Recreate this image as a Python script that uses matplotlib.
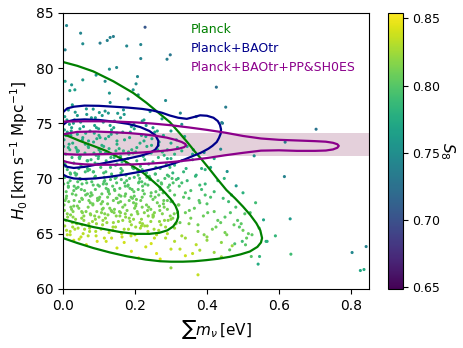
import matplotlib
matplotlib.use('Agg')
import matplotlib.pyplot as plt
import numpy as np

# MCMC samples (sum of neutrino masses [eV], H0, S8)
mnu = [
    0.010, 0.049, 0.055, 0.103, 0.123, 0.131, 0.140, 0.177, 0.216, 0.228,
    0.216, 0.006, 0.129, 0.149, 0.092, 0.117, 0.055, 0.006, 0.024, 0.019,
    0.033, 0.207, 0.203, 0.195, 0.129, 0.181, 0.209, 0.131, 0.026, 0.084,
    0.101, 0.126, 0.168, 0.242, 0.298, 0.289, 0.426, 0.285, 0.452, 0.326,
    0.370, 0.443, 0.703, 0.617, 0.441, 0.438, 0.392, 0.531, 0.456, 0.615,
    0.631, 0.564, 0.633, 0.803, 0.842, 0.826, 0.836, 0.481, 0.557, 0.567,
    0.542, 0.546, 0.523, 0.375, 0.498, 0.507, 0.477, 0.463, 0.590, 0.300,
    0.005, 0.018, 0.032, 0.047, 0.066, 0.088, 0.112, 0.135, 0.160, 0.190,
    0.220, 0.250, 0.275, 0.300, 0.330, 0.012, 0.040, 0.075, 0.100, 0.150,
    0.003, 0.015, 0.027, 0.040, 0.055, 0.070, 0.085, 0.100, 0.118, 0.135,
    0.150, 0.168, 0.185, 0.205, 0.225, 0.245, 0.265, 0.290, 0.315, 0.345,
    0.008, 0.022, 0.048, 0.062, 0.092, 0.108, 0.128, 0.160, 0.195, 0.230,
    0.002, 0.012, 0.025, 0.036, 0.050, 0.062, 0.078, 0.090, 0.105, 0.120,
    0.135, 0.150, 0.165, 0.180, 0.198, 0.215, 0.232, 0.250, 0.270, 0.290,
    0.310, 0.335, 0.360, 0.385, 0.005, 0.030, 0.068, 0.098, 0.142, 0.175,
    0.205, 0.240, 0.265, 0.020, 0.045, 0.085, 0.115, 0.160, 0.220, 0.300,
    0.002, 0.010, 0.020, 0.030, 0.042, 0.054, 0.066, 0.078, 0.090, 0.102,
    0.114, 0.126, 0.138, 0.150, 0.162, 0.174, 0.186, 0.198, 0.210, 0.222,
    0.236, 0.250, 0.264, 0.278, 0.292, 0.310, 0.330, 0.355, 0.380, 0.410,
    0.006, 0.015, 0.036, 0.048, 0.072, 0.084, 0.108, 0.132, 0.156, 0.180,
    0.204, 0.228, 0.244, 0.270, 0.060, 0.096, 0.120, 0.144, 0.192, 0.216,
    0.003, 0.012, 0.024, 0.035, 0.046, 0.058, 0.070, 0.082, 0.094, 0.106,
    0.118, 0.130, 0.142, 0.154, 0.166, 0.178, 0.190, 0.202, 0.214, 0.226,
    0.238, 0.250, 0.262, 0.276, 0.290, 0.305, 0.320, 0.340, 0.365, 0.390,
    0.420, 0.450, 0.480, 0.505, 0.008, 0.030, 0.052, 0.076, 0.100, 0.124,
    0.148, 0.172, 0.196, 0.220, 0.244, 0.268, 0.140, 0.184, 0.160, 0.110,
    0.005, 0.020, 0.038, 0.056, 0.074, 0.092, 0.110, 0.128, 0.146, 0.164,
    0.182, 0.200, 0.218, 0.236, 0.254, 0.272, 0.290, 0.310, 0.330, 0.350,
    0.375, 0.400, 0.425, 0.450, 0.475, 0.500, 0.525, 0.030, 0.065, 0.120,
    0.150, 0.190, 0.230, 0.260, 0.300, 0.340, 0.380, 0.420, 0.210, 0.270,
    0.290, 0.305, 0.320, 0.345, 0.370, 0.395, 0.410, 0.360, 0.330, 0.420,
    0.300, 0.325, 0.350, 0.375, 0.400, 0.430, 0.460, 0.490, 0.520, 0.545,
    0.310, 0.340, 0.370, 0.400, 0.440, 0.470, 0.510, 0.360, 0.440, 0.395,
    0.004, 0.017, 0.029, 0.043, 0.057, 0.071, 0.086, 0.099, 0.113, 0.127,
    0.141, 0.156, 0.171, 0.187, 0.202, 0.218, 0.233, 0.247, 0.262, 0.281,
    0.007, 0.019, 0.033, 0.046, 0.061, 0.074, 0.089, 0.104, 0.119, 0.133,
    0.147, 0.161, 0.176, 0.191, 0.208, 0.223, 0.238, 0.256, 0.276, 0.297,
    0.003, 0.014, 0.026, 0.038, 0.051, 0.064, 0.076, 0.088, 0.101, 0.113,
    0.125, 0.137, 0.149, 0.161, 0.173, 0.185, 0.197, 0.209, 0.221, 0.233,
    0.245, 0.257, 0.269, 0.283, 0.297, 0.315, 0.340, 0.368, 0.395, 0.430,
    0.004, 0.016, 0.028, 0.040, 0.052, 0.064, 0.076, 0.088, 0.100, 0.112,
    0.124, 0.136, 0.148, 0.160, 0.172, 0.184, 0.196, 0.208, 0.220, 0.232,
    0.244, 0.256, 0.268, 0.280, 0.292, 0.304, 0.318, 0.335, 0.355, 0.380,
    0.010, 0.026, 0.042, 0.058, 0.074, 0.090, 0.106, 0.122, 0.138, 0.154,
    0.170, 0.186, 0.202, 0.218, 0.234, 0.250, 0.266, 0.282, 0.298, 0.314,
    0.020, 0.045, 0.070, 0.095, 0.135, 0.170, 0.205, 0.245, 0.285, 0.325,
    0.002, 0.009, 0.014, 0.021, 0.031, 0.044, 0.053, 0.067, 0.081, 0.094,
    0.107, 0.121, 0.134, 0.146, 0.158, 0.171, 0.183, 0.199, 0.213, 0.227,
    0.241, 0.254, 0.267, 0.279, 0.294, 0.309, 0.323, 0.351, 0.378, 0.402,
    0.011, 0.023, 0.034, 0.049, 0.063, 0.079, 0.093, 0.109, 0.131, 0.152,
    0.438, 0.465, 0.495, 0.515, 0.535, 0.455, 0.485, 0.415, 0.445, 0.392,
    0.420, 0.448, 0.468, 0.500, 0.385, 0.342, 0.362, 0.318, 0.338, 0.300,
    0.028, 0.041, 0.054, 0.069, 0.083, 0.097, 0.116, 0.143, 0.166, 0.193,
    0.009, 0.022, 0.037, 0.052, 0.068, 0.083, 0.097, 0.111, 0.126, 0.143,
    0.158, 0.174, 0.189, 0.203, 0.219, 0.235, 0.251, 0.266, 0.281, 0.296,
    0.006, 0.021, 0.036, 0.053, 0.069, 0.084, 0.099, 0.116, 0.132, 0.148,
    0.164, 0.181, 0.196, 0.212, 0.227, 0.243, 0.258, 0.273, 0.287, 0.303,
    0.013, 0.027, 0.044, 0.060, 0.077, 0.093, 0.109, 0.125, 0.140, 0.157,
    0.173, 0.190, 0.206, 0.221, 0.237, 0.253, 0.269, 0.285, 0.300, 0.260,
    0.008, 0.024, 0.039, 0.054, 0.071, 0.087, 0.103, 0.118, 0.134, 0.150,
    0.166, 0.182, 0.198, 0.214, 0.231, 0.246, 0.263, 0.279, 0.310, 0.330,
    0.015, 0.031, 0.047, 0.063, 0.080, 0.096, 0.112, 0.129, 0.145, 0.161,
    0.177, 0.193, 0.209, 0.226, 0.242, 0.258, 0.274, 0.290, 0.306, 0.322,
    0.012, 0.033, 0.050, 0.072, 0.091, 0.115, 0.139, 0.163, 0.189, 0.215,
    0.015, 0.040, 0.065, 0.090, 0.117, 0.143, 0.170, 0.197, 0.225, 0.255,
]
h0 = [
    83.85, 83.16, 82.20, 82.26, 82.50, 82.77, 82.86, 82.00, 82.13, 83.70,
    80.86, 81.65, 79.90, 80.05, 79.36, 78.80, 78.93, 78.80, 78.48, 77.96,
    78.03, 79.23, 78.57, 78.03, 77.73, 77.20, 77.57, 76.88, 76.67, 76.28,
    75.97, 75.92, 76.21, 76.06, 81.20, 80.80, 78.27, 77.06, 76.46, 75.92,
    75.60, 75.00, 74.46, 73.29, 75.06, 72.65, 72.35, 72.05, 70.63, 70.17,
    66.34, 64.30, 63.14, 63.29, 63.83, 61.66, 61.75, 69.33, 66.25, 64.30,
    62.24, 62.93, 62.93, 61.27, 64.30, 63.99, 64.08, 63.53, 64.80, 61.90,
    75.60, 74.90, 75.30, 74.50, 75.80, 74.80, 75.10, 74.40, 75.50, 74.70,
    75.20, 74.60, 75.40, 74.30, 74.90, 74.20, 74.00, 74.30, 73.90, 74.10,
    73.50, 72.80, 73.20, 72.40, 73.70, 72.90, 73.30, 72.60, 73.60, 72.20,
    73.10, 72.50, 73.70, 72.80, 73.40, 72.30, 73.00, 72.60, 73.50, 72.90,
    72.20, 73.90, 72.00, 73.10, 72.10, 73.00, 72.70, 72.00, 72.30, 73.80,
    71.50, 70.80, 71.90, 70.30, 71.20, 70.60, 71.70, 70.20, 71.00, 71.60,
    70.40, 71.30, 70.70, 71.80, 70.10, 71.10, 70.50, 71.50, 70.90, 70.30,
    71.20, 70.60, 71.70, 70.90, 70.10, 71.40, 70.90, 71.80, 71.90, 70.30,
    71.60, 70.20, 71.90, 70.50, 71.90, 70.60, 70.10, 71.90, 70.80, 71.80,
    69.50, 68.40, 69.80, 68.90, 69.20, 68.10, 69.60, 68.70, 69.00, 68.30,
    69.70, 68.80, 69.30, 68.20, 69.90, 68.60, 69.10, 68.40, 69.60, 68.90,
    69.40, 68.10, 69.80, 68.70, 69.20, 68.50, 69.60, 68.90, 69.40, 68.30,
    68.00, 69.20, 68.50, 69.90, 68.00, 69.40, 68.60, 69.90, 68.50, 69.30,
    68.10, 69.50, 68.40, 69.00, 68.90, 68.00, 69.10, 68.90, 69.00, 68.00,
    67.60, 66.80, 67.20, 66.30, 67.90, 66.60, 67.40, 66.10, 67.00, 67.70,
    66.40, 67.30, 66.90, 67.80, 66.20, 67.10, 66.70, 67.50, 66.00, 66.90,
    67.40, 66.50, 67.80, 66.80, 67.20, 66.40, 67.60, 66.90, 67.30, 66.60,
    67.00, 66.50, 67.40, 66.80, 66.20, 67.50, 67.00, 66.80, 66.50, 67.70,
    66.60, 67.60, 66.30, 67.40, 66.10, 66.10, 68.00, 68.00, 67.90, 67.90,
    65.70, 65.20, 65.90, 65.00, 65.50, 64.80, 65.80, 65.10, 65.60, 64.70,
    65.40, 64.90, 65.70, 65.20, 64.60, 65.80, 65.00, 65.50, 64.80, 65.90,
    65.20, 64.70, 65.60, 65.10, 65.80, 65.30, 64.90, 64.40, 64.00, 64.30,
    63.70, 63.40, 63.80, 63.20, 63.60, 63.00, 63.50, 63.30, 62.80, 62.70,
    71.80, 70.50, 70.00, 69.80, 70.30, 69.50, 71.00, 72.20, 71.60, 68.80,
    67.90, 66.00, 68.20, 65.80, 67.70, 66.20, 67.90, 65.60, 66.90, 65.50,
    64.30, 64.60, 64.00, 64.40, 64.20, 63.90, 64.60, 63.20, 62.90, 68.50,
    74.40, 73.10, 75.00, 72.50, 74.70, 73.40, 72.30, 74.50, 72.90, 73.80,
    74.60, 72.70, 73.50, 74.20, 72.40, 73.90, 72.90, 73.60, 74.30, 72.10,
    71.10, 72.60, 70.50, 71.80, 72.30, 70.80, 71.40, 72.40, 70.60, 71.90,
    72.50, 70.90, 71.40, 72.60, 70.70, 72.00, 71.30, 70.40, 72.40, 71.00,
    70.20, 69.60, 68.60, 70.40, 69.00, 69.90, 68.40, 70.10, 69.30, 70.50,
    69.00, 70.20, 69.60, 70.50, 69.30, 70.00, 68.80, 70.30, 69.30, 70.10,
    68.70, 70.40, 69.20, 70.00, 68.90, 69.90, 68.70, 70.20, 70.80, 69.80,
    67.10, 67.90, 66.50, 67.50, 68.20, 67.00, 67.80, 66.60, 68.10, 67.30,
    68.30, 67.00, 68.20, 66.90, 68.40, 66.40, 67.80, 66.80, 68.30, 67.60,
    67.20, 68.30, 67.50, 68.00, 66.20, 67.90, 66.90, 68.30, 66.40, 67.80,
    65.30, 66.00, 65.50, 66.20, 65.20, 66.30, 65.40, 66.00, 65.30, 66.10,
    65.40, 66.10, 65.60, 66.30, 65.70, 66.70, 65.30, 66.20, 66.60, 65.90,
    64.90, 64.50, 64.80, 64.30, 64.60, 64.20, 64.40, 64.10, 64.60, 63.60,
    72.90, 68.80, 74.00, 66.70, 69.30, 70.90, 65.80, 71.60, 68.50, 73.60,
    66.90, 69.50, 67.10, 71.20, 66.60, 69.60, 72.20, 67.30, 70.00, 65.70,
    69.90, 66.90, 73.30, 67.70, 70.20, 66.80, 69.30, 67.10, 68.00, 66.90,
    75.30, 74.30, 76.00, 75.10, 74.10, 75.50, 74.60, 75.70, 74.80, 75.90,
    66.00, 66.90, 65.90, 65.00, 67.80, 64.90, 66.20, 65.40, 68.20, 64.90,
    71.80, 70.00, 68.50, 68.70, 69.00, 70.90, 72.60, 72.80, 73.80, 73.20,
    67.00, 69.70, 66.90, 70.70, 67.60, 71.30, 66.80, 69.00, 67.40, 71.00,
    68.20, 67.40, 69.10, 66.40, 68.60, 67.70, 69.40, 66.20, 68.90, 67.20,
    69.10, 66.50, 68.30, 67.70, 69.70, 67.10, 66.60, 68.50, 67.40, 69.40,
    71.30, 70.40, 72.80, 69.50, 71.60, 70.60, 72.00, 69.80, 71.00, 70.10,
    71.50, 69.40, 70.90, 69.70, 71.70, 69.90, 71.00, 69.60, 71.30, 70.00,
    66.50, 65.60, 67.30, 65.40, 66.70, 65.90, 67.20, 66.70, 66.00, 67.00,
    66.80, 65.80, 67.00, 65.90, 66.60, 65.40, 67.10, 65.60, 66.30, 64.90,
    73.90, 74.60, 72.60, 73.50, 72.80, 74.10, 73.70, 72.30, 74.00, 73.40,
    74.20, 72.40, 74.50, 73.20, 74.80, 73.00, 72.60, 73.90, 72.20, 72.50,
    69.30, 68.00, 70.00, 68.50, 69.70, 68.20, 69.50, 68.60, 70.00, 68.40,
    69.80, 68.20, 69.00, 68.60, 70.00, 68.80, 69.50, 68.00, 69.60, 67.60,
    64.90, 65.40, 64.70, 65.90, 65.20, 64.60, 65.60, 65.00, 64.80, 65.50,
    76.20, 75.70, 76.30, 75.50, 76.10, 75.20, 75.80, 74.90, 75.30, 74.20,
]
s8 = [
    0.745, 0.742, 0.748, 0.735, 0.740, 0.738, 0.736, 0.744, 0.742, 0.705,
    0.740, 0.738, 0.750, 0.745, 0.755, 0.748, 0.760, 0.765, 0.755, 0.768,
    0.762, 0.745, 0.748, 0.752, 0.756, 0.750, 0.748, 0.755, 0.765, 0.760,
    0.762, 0.758, 0.755, 0.752, 0.730, 0.735, 0.725, 0.748, 0.735, 0.745,
    0.742, 0.738, 0.728, 0.735, 0.740, 0.745, 0.750, 0.748, 0.755, 0.740,
    0.760, 0.780, 0.790, 0.745, 0.740, 0.770, 0.775, 0.760, 0.770, 0.780,
    0.775, 0.785, 0.800, 0.835, 0.790, 0.800, 0.795, 0.805, 0.785, 0.820,
    0.765, 0.768, 0.762, 0.770, 0.760, 0.768, 0.764, 0.770, 0.760, 0.766,
    0.762, 0.765, 0.758, 0.762, 0.755, 0.772, 0.770, 0.772, 0.774, 0.772,
    0.775, 0.778, 0.776, 0.780, 0.772, 0.778, 0.775, 0.780, 0.773, 0.782,
    0.776, 0.780, 0.772, 0.778, 0.774, 0.780, 0.775, 0.778, 0.770, 0.772,
    0.782, 0.772, 0.784, 0.776, 0.784, 0.777, 0.779, 0.785, 0.781, 0.770,
    0.786, 0.790, 0.784, 0.792, 0.788, 0.790, 0.785, 0.793, 0.789, 0.786,
    0.791, 0.787, 0.790, 0.784, 0.793, 0.788, 0.791, 0.785, 0.789, 0.790,
    0.782, 0.785, 0.778, 0.780, 0.794, 0.786, 0.789, 0.784, 0.784, 0.792,
    0.786, 0.793, 0.782, 0.791, 0.785, 0.790, 0.794, 0.784, 0.790, 0.780,
    0.798, 0.805, 0.796, 0.802, 0.800, 0.807, 0.797, 0.803, 0.801, 0.806,
    0.797, 0.803, 0.800, 0.806, 0.796, 0.804, 0.801, 0.805, 0.798, 0.802,
    0.799, 0.806, 0.796, 0.803, 0.800, 0.801, 0.792, 0.795, 0.790, 0.795,
    0.808, 0.799, 0.805, 0.796, 0.808, 0.799, 0.804, 0.796, 0.805, 0.800,
    0.807, 0.798, 0.805, 0.801, 0.802, 0.808, 0.801, 0.803, 0.801, 0.808,
    0.810, 0.816, 0.813, 0.820, 0.808, 0.818, 0.812, 0.822, 0.815, 0.810,
    0.819, 0.812, 0.815, 0.809, 0.821, 0.813, 0.816, 0.811, 0.823, 0.815,
    0.812, 0.818, 0.809, 0.815, 0.812, 0.815, 0.806, 0.808, 0.805, 0.808,
    0.805, 0.800, 0.795, 0.798, 0.821, 0.811, 0.814, 0.816, 0.818, 0.810,
    0.817, 0.810, 0.820, 0.811, 0.821, 0.820, 0.808, 0.807, 0.808, 0.809,
    0.825, 0.830, 0.823, 0.832, 0.827, 0.834, 0.824, 0.831, 0.826, 0.835,
    0.828, 0.832, 0.825, 0.829, 0.836, 0.824, 0.830, 0.822, 0.826, 0.815,
    0.815, 0.818, 0.808, 0.812, 0.805, 0.808, 0.802, 0.838, 0.840, 0.837,
    0.840, 0.842, 0.838, 0.843, 0.835, 0.838, 0.828, 0.822, 0.845, 0.842,
    0.775, 0.782, 0.785, 0.788, 0.780, 0.786, 0.770, 0.772, 0.776, 0.790,
    0.798, 0.808, 0.796, 0.810, 0.798, 0.805, 0.790, 0.800, 0.795, 0.800,
    0.830, 0.825, 0.832, 0.820, 0.818, 0.822, 0.805, 0.835, 0.825, 0.795,
    0.768, 0.776, 0.764, 0.780, 0.766, 0.775, 0.781, 0.768, 0.778, 0.772,
    0.768, 0.779, 0.774, 0.770, 0.781, 0.771, 0.777, 0.773, 0.768, 0.782,
    0.788, 0.781, 0.791, 0.785, 0.782, 0.790, 0.787, 0.781, 0.790, 0.784,
    0.781, 0.789, 0.787, 0.780, 0.790, 0.783, 0.787, 0.792, 0.780, 0.786,
    0.794, 0.797, 0.804, 0.792, 0.801, 0.795, 0.805, 0.794, 0.799, 0.792,
    0.801, 0.794, 0.797, 0.792, 0.800, 0.795, 0.803, 0.793, 0.800, 0.795,
    0.803, 0.792, 0.799, 0.794, 0.801, 0.793, 0.798, 0.785, 0.780, 0.785,
    0.813, 0.809, 0.818, 0.811, 0.807, 0.814, 0.809, 0.817, 0.807, 0.812,
    0.807, 0.813, 0.807, 0.815, 0.806, 0.818, 0.809, 0.815, 0.806, 0.810,
    0.812, 0.806, 0.810, 0.807, 0.818, 0.806, 0.812, 0.800, 0.810, 0.800,
    0.828, 0.822, 0.826, 0.820, 0.829, 0.820, 0.827, 0.822, 0.829, 0.821,
    0.827, 0.821, 0.825, 0.820, 0.825, 0.818, 0.828, 0.820, 0.815, 0.818,
    0.832, 0.835, 0.831, 0.838, 0.834, 0.839, 0.836, 0.840, 0.830, 0.832,
    0.776, 0.802, 0.770, 0.816, 0.799, 0.789, 0.824, 0.786, 0.805, 0.774,
    0.815, 0.798, 0.813, 0.788, 0.817, 0.797, 0.782, 0.812, 0.795, 0.825,
    0.796, 0.815, 0.774, 0.809, 0.794, 0.813, 0.797, 0.806, 0.800, 0.805,
    0.764, 0.769, 0.760, 0.765, 0.771, 0.763, 0.768, 0.761, 0.767, 0.759,
    0.805, 0.798, 0.802, 0.805, 0.790, 0.812, 0.800, 0.810, 0.792, 0.815,
    0.775, 0.782, 0.785, 0.780, 0.790, 0.782, 0.770, 0.774, 0.768, 0.772,
    0.814, 0.797, 0.815, 0.790, 0.810, 0.788, 0.815, 0.801, 0.811, 0.788,
    0.806, 0.811, 0.801, 0.819, 0.804, 0.809, 0.799, 0.821, 0.801, 0.812,
    0.800, 0.818, 0.806, 0.810, 0.797, 0.813, 0.817, 0.804, 0.811, 0.797,
    0.787, 0.792, 0.778, 0.798, 0.785, 0.791, 0.783, 0.796, 0.789, 0.793,
    0.786, 0.798, 0.789, 0.797, 0.785, 0.796, 0.789, 0.798, 0.787, 0.795,
    0.818, 0.826, 0.812, 0.827, 0.817, 0.823, 0.812, 0.817, 0.822, 0.813,
    0.816, 0.823, 0.814, 0.822, 0.817, 0.826, 0.813, 0.825, 0.819, 0.830,
    0.772, 0.768, 0.780, 0.775, 0.779, 0.771, 0.774, 0.782, 0.772, 0.776,
    0.771, 0.781, 0.769, 0.777, 0.767, 0.778, 0.780, 0.772, 0.781, 0.778,
    0.799, 0.807, 0.795, 0.804, 0.797, 0.806, 0.798, 0.804, 0.795, 0.805,
    0.796, 0.806, 0.801, 0.804, 0.795, 0.803, 0.798, 0.807, 0.797, 0.809,
    0.833, 0.829, 0.835, 0.824, 0.830, 0.836, 0.826, 0.832, 0.834, 0.828,
    0.758, 0.762, 0.757, 0.763, 0.758, 0.764, 0.760, 0.766, 0.763, 0.768,
]
assert len(mnu) == len(h0) == len(s8)

# SH0ES prior band
h0_shoes, h0_shoes_err = 73.04, 1.04

# credible-region contours (1 and 2 sigma)
planck_2s_x = [0.0, 0.04, 0.084, 0.14, 0.195, 0.232, 0.269, 0.297, 0.324, 0.345,
               0.366, 0.387, 0.407, 0.43, 0.454, 0.478, 0.50, 0.52, 0.537, 0.548,
               0.553, 0.550, 0.540, 0.519, 0.493, 0.463, 0.43, 0.398, 0.365, 0.333,
               0.30, 0.27, 0.23, 0.177, 0.13, 0.084, 0.04, 0.0]
planck_2s_y = [80.55, 80.2, 79.7, 78.8, 77.75, 76.85, 75.85, 75.1, 74.1, 73.3,
               72.45, 71.65, 70.85, 69.9, 68.95, 68.2, 67.45, 66.7, 65.95, 65.3,
               64.6, 64.2, 63.8, 63.38, 63.12, 62.9, 62.72, 62.6, 62.5, 62.46,
               62.46, 62.5, 62.65, 62.95, 63.3, 63.7, 64.15, 64.6]
planck_1s_x = [0.0, 0.047, 0.084, 0.12, 0.158, 0.19, 0.223, 0.25, 0.269, 0.285,
               0.3, 0.312, 0.319, 0.320, 0.316, 0.306, 0.29, 0.268, 0.24, 0.2,
               0.158, 0.12, 0.084, 0.04, 0.0]
planck_1s_y = [74.04, 73.4, 72.95, 72.5, 71.85, 71.2, 70.5, 69.75, 69.2, 68.65,
               68.1, 67.55, 67.0, 66.5, 66.1, 65.65, 65.3, 65.08, 64.98, 64.98,
               65.15, 65.38, 65.6, 65.95, 66.3]

bao_2s_x = [0.0, 0.012, 0.03, 0.06, 0.1, 0.14, 0.18, 0.22, 0.25, 0.275,
            0.297, 0.32, 0.344, 0.362, 0.381, 0.40, 0.418, 0.43, 0.436, 0.439,
            0.438, 0.433, 0.427, 0.415, 0.404, 0.39, 0.381, 0.362, 0.34, 0.316,
            0.288, 0.25, 0.214, 0.17, 0.13, 0.09, 0.056, 0.03, 0.012, 0.0]
bao_2s_y = [76.0, 76.35, 76.5, 76.6, 76.58, 76.5, 76.42, 76.3, 76.15, 75.95,
            75.7, 75.5, 75.4, 75.55, 75.72, 75.68, 75.5, 75.2, 74.86, 74.45,
            74.05, 73.65, 73.3, 72.95, 72.7, 72.45, 72.3, 72.05, 71.75, 71.45,
            71.15, 70.85, 70.6, 70.35, 70.15, 70.0, 69.95, 70.0, 70.15, 70.35]
bao_1s_x = [0.0, 0.012, 0.03, 0.06, 0.1, 0.14, 0.18, 0.215, 0.24, 0.257,
            0.265, 0.264, 0.256, 0.24, 0.215, 0.18, 0.14, 0.1, 0.06, 0.03,
            0.012, 0.0]
bao_1s_y = [74.85, 75.15, 75.3, 75.35, 75.3, 75.15, 74.95, 74.65, 74.3, 73.9,
            73.4, 72.95, 72.6, 72.3, 72.05, 71.8, 71.55, 71.3, 71.05, 70.95,
            71.05, 71.3]

sh0es_2s_x = [0.0, 0.05, 0.1, 0.15, 0.2, 0.25, 0.3, 0.35, 0.4, 0.45,
              0.5, 0.55, 0.6, 0.65, 0.7, 0.73, 0.75, 0.762, 0.766, 0.762,
              0.75, 0.73, 0.7, 0.65, 0.6, 0.55, 0.5, 0.45, 0.4, 0.35,
              0.3, 0.25, 0.2, 0.15, 0.1, 0.06, 0.03, 0.012, 0.0]
sh0es_2s_y = [75.15, 75.18, 75.18, 75.15, 75.08, 74.97, 74.82, 74.62, 74.4, 74.15,
              73.85, 73.62, 73.5, 73.44, 73.38, 73.33, 73.23, 73.1, 72.95, 72.78,
              72.63, 72.53, 72.5, 72.5, 72.55, 72.52, 72.32, 72.1, 71.85, 71.65,
              71.48, 71.36, 71.28, 71.24, 71.24, 71.28, 71.36, 71.48, 71.6]
sh0es_1s_x = [0.0, 0.04, 0.09, 0.13, 0.18, 0.223, 0.26, 0.288, 0.312, 0.33,
              0.34, 0.342, 0.336, 0.322, 0.3, 0.27, 0.223, 0.18, 0.13, 0.08,
              0.04, 0.012, 0.0]
sh0es_1s_y = [74.0, 74.22, 74.25, 74.2, 74.12, 74.0, 73.85, 73.7, 73.5, 73.3,
              73.12, 72.98, 72.83, 72.7, 72.58, 72.48, 72.36, 72.28, 72.22, 72.18,
              72.16, 72.2, 72.25]

labels = ['Planck', 'Planck+BAOtr', 'Planck+BAOtr+PP&SH0ES']
colors = ['green', 'darkblue', 'darkmagenta']

fig = plt.figure(figsize=(4.63, 3.48), dpi=100)
ax = fig.add_axes([0.136, 0.170, 0.661, 0.793])
cax = fig.add_axes([0.838, 0.170, 0.032, 0.793])

ax.axhspan(h0_shoes - h0_shoes_err, h0_shoes + h0_shoes_err, color='#e4d0db', lw=0, zorder=0)

sc = ax.scatter(mnu, h0, c=s8, cmap='viridis', vmin=0.649, vmax=0.854,
                s=5, linewidths=0, zorder=1)

contours = [
    (planck_2s_x, planck_2s_y, planck_1s_x, planck_1s_y),
    (bao_2s_x, bao_2s_y, bao_1s_x, bao_1s_y),
    (sh0es_2s_x, sh0es_2s_y, sh0es_1s_x, sh0es_1s_y),
]
for (x2, y2, x1, y1), col in zip(contours, colors):
    ax.plot(x2, y2, color=col, lw=1.6, zorder=2)
    ax.plot(x1, y1, color=col, lw=1.6, zorder=2)

# legend as coloured text
for i, (lab, col) in enumerate(zip(labels, colors)):
    ax.text(0.355, 83.45 - 1.7 * i, lab, color=col, fontsize=9, va='center')

ax.set_xlim(0, 0.85)
ax.set_ylim(60, 85)
ax.set_xticks([0.0, 0.2, 0.4, 0.6, 0.8])
ax.set_yticks([60, 65, 70, 75, 80, 85])
ax.tick_params(labelsize=10)
ax.set_xlabel(r'$\sum m_\nu\,$[eV]', fontsize=11)
ax.set_ylabel(r'$H_0\,$[km s$^{-1}$ Mpc$^{-1}$]', fontsize=11)

cb = fig.colorbar(sc, cax=cax)
cb.set_ticks([0.65, 0.70, 0.75, 0.80, 0.85])
cb.ax.tick_params(labelsize=9)
cb.set_label(r'$S_8$', rotation=270, fontsize=11, labelpad=12)

fig.savefig('out.png', dpi=100)
